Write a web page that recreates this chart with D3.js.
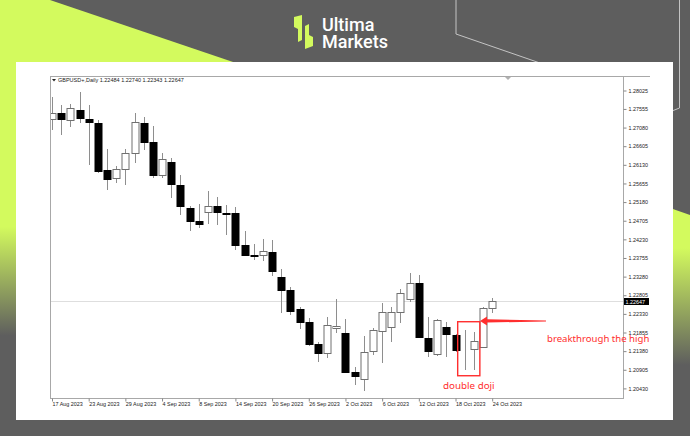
<!DOCTYPE html>
<html><head><meta charset="utf-8">
<script src="https://cdn.jsdelivr.net/npm/d3@7"></script>
<style>html,body{margin:0;padding:0;background:#5e5e5e;overflow:hidden}svg{display:block}</style>
</head><body>
<svg id="c" width="690" height="436"></svg>
<script>
const dates = ["17 Aug 2023","18 Aug 2023","21 Aug 2023","22 Aug 2023","23 Aug 2023","24 Aug 2023","25 Aug 2023","28 Aug 2023","29 Aug 2023","30 Aug 2023","31 Aug 2023","1 Sep 2023","4 Sep 2023","5 Sep 2023","6 Sep 2023","7 Sep 2023","8 Sep 2023","11 Sep 2023","12 Sep 2023","13 Sep 2023","14 Sep 2023","15 Sep 2023","18 Sep 2023","19 Sep 2023","20 Sep 2023","21 Sep 2023","22 Sep 2023","25 Sep 2023","26 Sep 2023","27 Sep 2023","28 Sep 2023","29 Sep 2023","2 Oct 2023","3 Oct 2023","4 Oct 2023","5 Oct 2023","6 Oct 2023","9 Oct 2023","10 Oct 2023","11 Oct 2023","12 Oct 2023","13 Oct 2023","16 Oct 2023","17 Oct 2023","18 Oct 2023","19 Oct 2023","20 Oct 2023","23 Oct 2023","24 Oct 2023"];
const opens = [1.27291,1.27459,1.27273,1.27528,1.27306,1.27189,1.25998,1.25786,1.26016,1.26424,1.27204,1.26719,1.25870,1.26209,1.25615,1.25021,1.24705,1.24919,1.25087,1.24894,1.24894,1.24078,1.23830,1.23823,1.23914,1.23262,1.22938,1.22450,1.22129,1.21561,1.21324,1.21969,1.21834,1.20847,1.20668,1.21390,1.21900,1.22002,1.22369,1.22701,1.23124,1.21727,1.21306,1.21994,1.21790,1.21410,1.21426,1.21477,1.22484];
const highs = [1.27859,1.27655,1.27681,1.27994,1.27655,1.27273,1.26526,1.26100,1.26526,1.27459,1.27342,1.27120,1.26424,1.26296,1.25870,1.25080,1.25131,1.25470,1.25302,1.25105,1.25047,1.24450,1.24103,1.24238,1.24213,1.23466,1.23020,1.22500,1.22224,1.21619,1.22242,1.22701,1.22191,1.20982,1.21765,1.21961,1.22614,1.22512,1.22956,1.23364,1.23320,1.22242,1.22198,1.22129,1.21829,1.21918,1.21874,1.22512,1.22740];
const lows = [1.27018,1.26890,1.27102,1.27189,1.26125,1.25914,1.25488,1.25659,1.25615,1.26184,1.26508,1.25786,1.25786,1.25276,1.24850,1.24450,1.24511,1.24621,1.24595,1.24340,1.23958,1.23805,1.23703,1.23685,1.23302,1.22350,1.22310,1.21950,1.21510,1.21109,1.21196,1.21834,1.20814,1.20515,1.20370,1.21280,1.21069,1.21619,1.22104,1.22639,1.21706,1.21222,1.21255,1.21237,1.21357,1.20898,1.20898,1.21451,1.22343];
const closes = [1.27444,1.27306,1.27571,1.27316,1.27214,1.25980,1.25768,1.26023,1.26424,1.27214,1.26719,1.25870,1.26278,1.25641,1.25080,1.24705,1.24621,1.25087,1.24934,1.24868,1.24085,1.23823,1.23805,1.23932,1.23430,1.22938,1.22400,1.22122,1.21553,1.21339,1.22038,1.22020,1.20854,1.20752,1.21364,1.21918,1.22369,1.22369,1.22854,1.23109,1.21732,1.21382,1.22165,1.21823,1.21408,1.21410,1.21637,1.22471,1.22647];
const xTickLabels = ["17 Aug 2023","23 Aug 2023","29 Aug 2023","4 Sep 2023","8 Sep 2023","14 Sep 2023","20 Sep 2023","26 Sep 2023","2 Oct 2023","6 Oct 2023","12 Oct 2023","18 Oct 2023","24 Oct 2023"];
const yTicks = [1.28025,1.27555,1.27080,1.26605,1.26130,1.25655,1.25180,1.24705,1.24230,1.23755,1.23280,1.22805,1.22330,1.21855,1.21380,1.20905,1.20430];
const symbol = "GBPUSD+,Daily";
const lastPrice = 1.22647;
const dojiDates = ["19 Oct 2023","20 Oct 2023"];
const dojiBoxPrices = [1.20753, 1.22130];
const breakDate = "23 Oct 2023";
const breakLevel = 1.22150;
const breakText = "breakthrough the high";
const dojiText = "double doji";
const brandLines = ["Ultima","Markets"];

const svg = d3.select("#c");
const LIME = "#d3fa5e", GRAY = "#5e5e5e";
const defs = svg.append("defs");
const gl = defs.append("linearGradient").attr("id","gl").attr("x1",0).attr("y1",0).attr("x2",0).attr("y2",1);
gl.append("stop").attr("offset","0.52").attr("stop-color",LIME);
gl.append("stop").attr("offset","0.77").attr("stop-color",GRAY);
const gr = defs.append("linearGradient").attr("id","gr").attr("gradientUnits","userSpaceOnUse").attr("x1",0).attr("y1",209).attr("x2",0).attr("y2",365);
gr.append("stop").attr("offset","0.25").attr("stop-color",LIME);
gr.append("stop").attr("offset","1").attr("stop-color",GRAY);

// background
svg.append("rect").attr("width",690).attr("height",436).attr("fill",GRAY);
svg.append("rect").attr("x",0).attr("y",0).attr("width",20).attr("height",436).attr("fill","url(#gl)");
svg.append("polygon").attr("points","0,0 50,0 236,63 0,63").attr("fill",LIME);
svg.append("polygon").attr("points","670,208 690,215 690,436 670,436").attr("fill","url(#gr)");
svg.append("polyline").attr("points","456,0 456,34 540,63").attr("fill","none").attr("stroke","#c4c4c4").attr("stroke-width",1);
svg.append("polyline").attr("points","679.5,0 679.5,108 672,111").attr("fill","none").attr("stroke","#c4c4c4").attr("stroke-width",1);

// logo
const lg = svg.append("g");
lg.append("path").attr("d","M294,17 L302,15 L302,40 L298,42 L298,29 L294,27 Z").attr("fill",LIME);
lg.append("path").attr("d","M305,26 L309,24 L309,35 L313,37 L313,46 L305,49 Z").attr("fill",LIME);
const brand = lg.append("text").attr("fill","#fff")
  .attr("font-family","Roboto, 'Open Sans', sans-serif").attr("font-weight",500).attr("font-size",18);
brand.selectAll("tspan").data(brandLines).join("tspan")
  .attr("x",322).attr("y",(d,i)=>30.5+i*17).text(d=>d);

// card
svg.append("rect").attr("x",16).attr("y",62).attr("width",657).attr("height",358).attr("fill","#fff");

const L=50, T=76, R=623, B=398;
const x = d3.scalePoint().domain(dates).range([52, 492.2]);
const y = d3.scaleLinear().domain([1.20430, 1.28025]).range([388.4, 90.5]);
const FONT = "'Liberation Sans', Arial, sans-serif";

// frame
const fr = svg.append("g").attr("stroke","#a8a8a8").attr("stroke-width",1).attr("fill","none");
fr.append("line").attr("x1",L).attr("x2",650).attr("y1",T+0.5).attr("y2",T+0.5);
fr.append("line").attr("x1",L+0.5).attr("x2",L+0.5).attr("y1",T).attr("y2",B);
fr.append("line").attr("x1",L).attr("x2",R).attr("y1",B+0.5).attr("y2",B+0.5);
fr.append("line").attr("x1",R+0.5).attr("x2",R+0.5).attr("y1",T).attr("y2",B+1);

// current price line
const py = Math.round(y(lastPrice))+0.5;
svg.append("line").attr("x1",L+1).attr("x2",R).attr("y1",py).attr("y2",py).attr("stroke","#dedede");

// candles
const plot = svg.append("g");
const cd = dates.map((d,i)=>({d,o:opens[i],h:highs[i],l:lows[i],c:closes[i]}));
const cg = plot.selectAll("g.c").data(cd).join("g").attr("class","c");
const cx = d => Math.round(x(d.d))+0.5;
cg.append("line").attr("x1",cx).attr("x2",cx)
  .attr("y1",d=>Math.round(y(d.h))).attr("y2",d=>Math.round(y(d.l)))
  .attr("stroke","#8e8e8e");
cg.append("rect")
  .attr("x",d=>cx(d)-3.5).attr("width",7)
  .attr("y",d=>Math.round(y(Math.max(d.o,d.c)))+0.5)
  .attr("height",d=>Math.max(0,Math.round(y(Math.min(d.o,d.c)))-Math.round(y(Math.max(d.o,d.c)))))
  .attr("fill",d=>d.c<d.o?"#000":"#fff")
  .attr("stroke",d=>d.c<d.o?"#000":"#707070");
svg.append("rect").attr("x",16).attr("y",T+1).attr("width",L-16).attr("height",B-T).attr("fill","#fff");
fr.raise();

// y axis
const ya = svg.append("g").attr("transform",`translate(${R+0.5},0)`)
  .call(d3.axisRight(y).tickValues(yTicks).tickFormat(d3.format(".5f")).tickSize(3).tickPadding(2));
ya.select(".domain").remove();
ya.selectAll("line").attr("stroke","#888");
ya.selectAll("text").attr("font-family",FONT).attr("font-size",5.4).attr("fill","#222");

// x axis
const xa = svg.append("g").attr("transform",`translate(0,${B+0.5})`)
  .call(d3.axisBottom(x).tickValues(xTickLabels).tickSize(3));
xa.select(".domain").remove();
xa.selectAll("line").attr("stroke","#888");
xa.selectAll("text").attr("font-family",FONT).attr("font-size",5.4).attr("fill","#222")
  .attr("text-anchor","start").attr("y",3.5).attr("x",0);

// price box
svg.append("rect").attr("x",R+1).attr("y",py-3.5).attr("width",25).attr("height",7).attr("fill","#000");
svg.append("text").attr("x",R+2.5).attr("y",py+2).attr("font-family",FONT).attr("font-size",5.4).attr("fill","#fff").text(d3.format(".5f")(lastPrice));

// header
svg.append("path").attr("d","M52,79 L56,79 L54,81.5 Z").attr("fill","#222");
const last = dates.length-1;
svg.append("text").attr("x",58).attr("y",82).attr("font-family",FONT).attr("font-size",5.5).attr("fill","#222")
  .text(symbol+"  "+[opens[last],highs[last],lows[last],closes[last]].map(d3.format(".5f")).join(" "));
svg.append("path").attr("d","M505,77 L511,77 L508,80 Z").attr("fill","#b0b0b0");

// annotations
const RED = "#ff2e2e";
const bx0 = x(dojiDates[0])-7, bx1 = x(dojiDates[1])+6;
svg.append("rect").attr("x",bx0).attr("y",y(dojiBoxPrices[1])).attr("width",bx1-bx0)
  .attr("height",y(dojiBoxPrices[0])-y(dojiBoxPrices[1])).attr("fill","none").attr("stroke",RED).attr("stroke-width",1.4);
const ax = x(breakDate)-3, ay = y(breakLevel), tail = 546;
svg.append("path").attr("d",`M${ax},${ay} L${ax+7},${ay-4.5} L${ax+7},${ay-1.6} L${tail},${ay-0.5} L${tail},${ay+0.5} L${ax+7},${ay+1.6} L${ax+7},${ay+4.5} Z`).attr("fill",RED);
svg.append("text").attr("x",547).attr("y",341.5).attr("font-family","'Noto Sans', sans-serif").attr("font-size",9.6).attr("fill",RED).text(breakText);
svg.append("text").attr("x",443).attr("y",388.5).attr("font-family","'Noto Sans', sans-serif").attr("font-size",9.8).attr("fill",RED).text(dojiText);
</script>
</body></html>
